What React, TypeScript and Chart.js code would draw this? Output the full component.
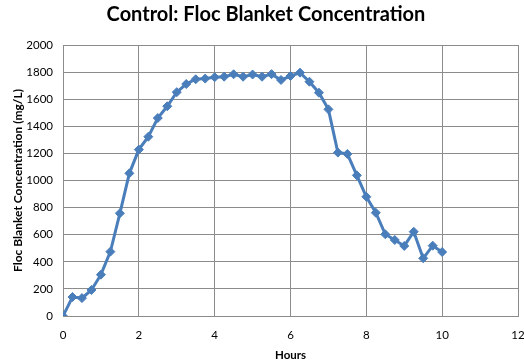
import React, { useEffect, useRef } from "react";
import { Chart, registerables } from "chart.js";

Chart.register(...registerables);

const hours = [
  0, 0.25, 0.5, 0.75, 1, 1.25, 1.5, 1.75, 2, 2.25, 2.5, 2.75, 3, 3.25, 3.5, 3.75,
  4, 4.25, 4.5, 4.75, 5, 5.25, 5.5, 5.75, 6, 6.25, 6.5, 6.75, 7, 7.25, 7.5, 7.75,
  8, 8.25, 8.5, 8.75, 9, 9.25, 9.5, 9.75, 10,
];
const concentration = [
  0, 140, 132, 192, 305, 475, 758, 1053, 1228, 1323, 1461, 1548, 1652, 1712, 1747, 1752,
  1762, 1766, 1784, 1766, 1782, 1766, 1785, 1742, 1771, 1796, 1729, 1648, 1525, 1206, 1196, 1038,
  880, 762, 603, 561, 517, 622, 426, 519, 472,
];
const xTicks = [0, 2, 4, 6, 8, 10, 12];
const yTicks = [0, 200, 400, 600, 800, 1000, 1200, 1400, 1600, 1800, 2000];

const titleText = "Control: Floc Blanket Concentration";
const xTitle = "Hours";
const yTitle = "Floc Blanket Concentration (mg/L)";

export default function App() {
  const ref = useRef<HTMLCanvasElement | null>(null);
  useEffect(() => {
    if (!ref.current) return;
    const chart = new Chart(ref.current, {
      type: "line",
      data: {
        datasets: [
          {
            data: hours.map((h, i) => ({ x: h, y: concentration[i] })),
            borderColor: "#4a7ebb",
            backgroundColor: "#4a7ebb",
            borderWidth: 3,
            pointStyle: "rectRot",
            pointRadius: 4.5,
            pointBorderWidth: 1,
            tension: 0,
          },
        ],
      },
      options: {
        animation: false,
        responsive: false,
        layout: { padding: { left: 0, right: 6, top: 45, bottom: 0 } },
        plugins: {
          legend: { display: false },
          tooltip: { enabled: false },
          title: { display: false },
        },
        scales: {
          x: {
            type: "linear",
            min: 0,
            max: 12,
            afterBuildTicks: (s: any) => {
              s.ticks = xTicks.map((v) => ({ value: v }));
            },
            afterFit: (s: any) => {
              s.height = 46;
              s.paddingRight = 0;
              s.paddingLeft = 0;
            },
            grid: { color: "#8c8c8c", drawTicks: false, lineWidth: 1 },
            border: { color: "#8c8c8c" },
            ticks: {
              color: "#000",
              padding: 12,
              font: { family: "Lato", size: 11.5 },
              maxRotation: 0,
              callback: (v: any) => String(v),
            },
            title: {
              display: true,
              text: xTitle,
              color: "#000",
              font: { family: "Lato", size: 11.5, weight: "bold" },
              padding: { top: 0, bottom: 0 },
            },
          },
          y: {
            type: "linear",
            min: 0,
            max: 2000,
            afterBuildTicks: (s: any) => {
              s.ticks = yTicks.map((v) => ({ value: v }));
            },
            afterFit: (s: any) => {
              s.width = 63;
              s.paddingTop = 0;
            },
            grid: { color: "#8c8c8c", drawTicks: false, lineWidth: 1 },
            border: { color: "#8c8c8c" },
            ticks: {
              color: "#000",
              padding: 10,
              font: { family: "Lato", size: 11.5 },
              callback: (v: any) => String(v),
            },
            title: {
              display: true,
              text: yTitle,
              color: "#000",
              font: { family: "Lato", size: 12, weight: "bold" },
              padding: { top: 11, bottom: 0 },
            },
          },
        },
      },
      plugins: [
        {
          id: "extras",
          afterDraw(c: any) {
            const a = c.chartArea;
            const ctx = c.ctx;
            ctx.save();
            ctx.strokeStyle = "#8c8c8c";
            ctx.lineWidth = 1;
            ctx.beginPath();
            ctx.moveTo(Math.round(a.right) + 0.5, a.top);
            ctx.lineTo(Math.round(a.right) + 0.5, a.bottom);
            ctx.stroke();
            ctx.fillStyle = "#000";
            ctx.font = "bold 20px Lato";
            ctx.textAlign = "center";
            ctx.textBaseline = "alphabetic";
            ctx.fillText(titleText, 266, 21);
            ctx.restore();
          },
        },
      ],
    } as any);
    return () => chart.destroy();
  }, []);
  return (
    <div style={{ position: "fixed", left: 0, top: 0, width: 524, height: 362, background: "#fff" }}>
      <canvas ref={ref} width={524} height={362} style={{ width: 524, height: 362 }} />
    </div>
  );
}
